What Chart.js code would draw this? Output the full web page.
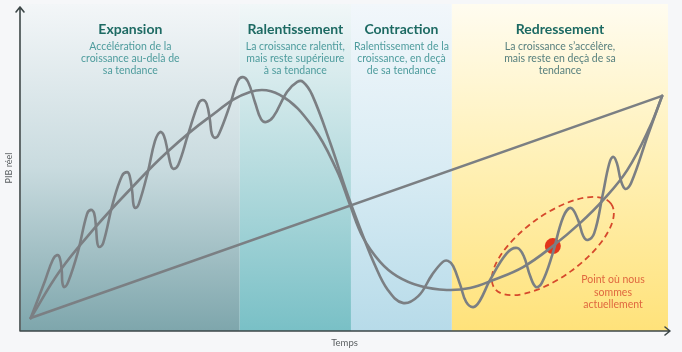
<!DOCTYPE html>
<html lang="fr">
<head>
<meta charset="utf-8">
<title>Cycle économique</title>
<script src="https://cdn.jsdelivr.net/npm/chart.js@4.4.1/dist/chart.umd.min.js"></script>
<style>
  html, body { margin: 0; padding: 0; background: #f6f7f9; }
  #wrap { width: 682px; height: 352px; position: relative; }
</style>
</head>
<body>
<div id="wrap"><canvas id="c" width="682" height="352"></canvas></div>
<script>
// Phases of the cycle (time axis 0–100)
const phaseNames = ['Expansion', 'Ralentissement', 'Contraction', 'Redressement'];
const phaseStart = [0, 33.8, 51.0, 66.6];
const phaseEnd   = [33.8, 51.0, 66.6, 100];
const phaseText = [
  ['Accélération de la', 'croissance au-delà de', 'sa tendance'],
  ['La croissance ralentit,', 'mais reste supérieure', 'à sa tendance'],
  ['Ralentissement de la', 'croissance, en deçà', 'de sa tendance'],
  ['La croissance s’accélère,', 'mais reste en deçà de sa', 'tendance']
];

// Long-run trend of real GDP
const trendX = [1.5, 99.1];
const trendY = [4.0, 72.8];

// Business cycle around the trend
const cycleX = [1.5, 6.0, 11.4, 16.8, 22.6, 28.9, 35.4, 40.0, 45.1, 48.8, 50.8, 52.9, 55.5, 58.1, 61.7, 65.8, 69.4, 73.0, 77.6, 82.2, 86.4, 90.0, 93.7, 97.2, 99.1];
const cycleY = [4.0, 18.6, 31.9, 43.7, 55.4, 65.9, 74.0, 73.1, 63.2, 49.8, 39.3, 28.8, 21.4, 17.0, 13.9, 12.7, 13.3, 15.8, 19.8, 26.3, 33.4, 40.6, 49.8, 63.2, 72.8];

// Short-term fluctuations around the cycle
const waveX = [
  1.5, 3.7, 4.9, 5.6, 6.0, 6.3, 6.4, 6.7, 7.3,
  8.8, 10.2, 10.8, 11.3, 11.6, 11.8, 12.1, 12.7,
  14.2, 15.6, 16.4, 16.8, 17.2, 17.4, 17.7, 18.2,
  19.6, 20.7, 21.5, 22.1, 22.7, 23.2, 23.6, 24.3,
  25.8, 27.4, 28.1, 28.7, 29.2, 29.5, 30.0, 30.6,
  32.3, 33.5, 34.3, 35.1, 36.2, 37.1, 37.9, 39.0,
  41.1, 42.7, 43.6, 45.0, 47.8, 50.4, 52.7, 54.7,
  56.7, 59.0, 61.4, 63.5, 65.2, 66.0, 66.8, 67.9,
  68.8, 69.9, 70.9, 72.5, 75.1, 76.7, 77.7, 78.7,
  79.6, 80.5, 82.1, 83.8, 85.0, 86.1, 86.9, 87.6,
  88.6, 89.9, 90.9, 91.5, 92.1, 92.7, 93.4, 94.3,
  96.9, 99.1
];
const waveY = [
  4.0, 15.5, 22.0, 23.5, 22.6, 18.6, 14.9, 13.6, 15.2,
  24.5, 36.2, 37.5, 36.5, 31.9, 27.2, 26.0, 27.2,
  39.6, 48.0, 49.2, 48.0, 43.0, 39.0, 38.1, 39.3,
  49.2, 58.8, 61.6, 60.4, 55.4, 51.1, 50.2, 51.4,
  60.7, 70.3, 71.5, 70.3, 65.3, 61.0, 59.8, 61.0,
  70.0, 77.4, 78.6, 77.1, 70.6, 65.6, 64.7, 66.3,
  74.0, 77.1, 77.1, 73.1, 58.2, 42.7, 30.3, 20.4,
  12.7, 8.7, 10.8, 17.3, 21.4, 21.7, 20.1, 14.2,
  9.0, 7.4, 9.3, 15.8, 24.1, 25.7, 23.2, 17.0,
  13.6, 14.9, 23.5, 35.3, 38.1, 34.4, 29.4, 28.2,
  30.3, 42.1, 51.7, 53.9, 52.0, 46.7, 44.0, 45.8,
  60.7, 72.8
];

// Current position in the cycle
const nowX = [82.2];
const nowY = [26.3];
const nowLabel = ['Point où nous', 'sommes', 'actuellement'];

const xLabel = 'Temps';
const yLabel = 'PIB réel';

const toPoints = (xs, ys) => xs.map((x, i) => ({ x, y: ys[i] }));

const bandColors = [
  ['#f3f6f8', '#c9dbdf', '#7ea6ac'],
  ['#f1f7f8', '#b7dcdf', '#79c0c6'],
  ['#f2f7fb', '#d9ecf4', '#b7dbe9'],
  ['#fffcf0', '#fff0b4', '#ffe27a']
];

const decor = {
  id: 'decor',
  beforeDatasetsDraw(chart) {
    const { ctx, chartArea: a, scales: { x, y } } = chart;
    const top = 4;
    ctx.save();
    // phase bands
    phaseStart.forEach((s, i) => {
      const x0 = x.getPixelForValue(s), x1 = x.getPixelForValue(phaseEnd[i]);
      const g = ctx.createLinearGradient(0, top, 0, a.bottom);
      g.addColorStop(0, bandColors[i][0]);
      g.addColorStop(0.5, bandColors[i][1]);
      g.addColorStop(1, bandColors[i][2]);
      ctx.fillStyle = g;
      ctx.fillRect(x0, top, x1 - x0, a.bottom - top);
    });
    // phase titles and descriptions
    ctx.textAlign = 'center';
    ctx.textBaseline = 'middle';
    phaseNames.forEach((n, i) => {
      const cx = (x.getPixelForValue(phaseStart[i]) + x.getPixelForValue(phaseEnd[i])) / 2;
      ctx.fillStyle = '#1d6a63';
      ctx.font = 'bold 14px Lato, "Noto Sans", sans-serif';
      ctx.fillText(n, cx, 29);
      ctx.fillStyle = i === 3 ? '#567f7d' : '#4e9c9d';
      ctx.font = '10.5px Lato, "Noto Sans", sans-serif';
      phaseText[i].forEach((t, j) => ctx.fillText(t, cx, 47 + j * 12));
    });
    // dashed ring around the current point
    const cx = x.getPixelForValue(nowX[0]), cy = y.getPixelForValue(nowY[0]);
    ctx.beginPath();
    ctx.ellipse(cx, cy, 72, 31, -36 * Math.PI / 180, 0, Math.PI * 2);
    ctx.setLineDash([6, 4]);
    ctx.lineWidth = 1.8;
    ctx.strokeStyle = '#d6492c';
    ctx.stroke();
    ctx.setLineDash([]);
    ctx.restore();
  },
  afterDatasetsDraw(chart) {
    const { ctx, chartArea: a } = chart;
    ctx.save();
    // axes with open arrow heads
    ctx.strokeStyle = '#3d4748';
    ctx.lineWidth = 1.6;
    ctx.lineCap = 'round';
    ctx.lineJoin = 'round';
    const ox = a.left - 1, oy = a.bottom;
    ctx.beginPath();
    ctx.moveTo(ox, oy); ctx.lineTo(ox, 7);
    ctx.moveTo(ox - 4, 12); ctx.lineTo(ox, 7); ctx.lineTo(ox + 4, 12);
    ctx.moveTo(ox, oy); ctx.lineTo(670, oy);
    ctx.moveTo(665, oy - 4); ctx.lineTo(670, oy); ctx.lineTo(665, oy + 4);
    ctx.stroke();
    // axis titles
    ctx.fillStyle = '#5b6062';
    ctx.textAlign = 'center';
    ctx.textBaseline = 'middle';
    ctx.font = '9.5px Lato, "Noto Sans", sans-serif';
    ctx.fillText(xLabel, (a.left + a.right) / 2, 343);
    ctx.translate(9, 168);
    ctx.rotate(-Math.PI / 2);
    ctx.font = '9px Lato, "Noto Sans", sans-serif';
    ctx.fillText(yLabel, 0, 0);
    ctx.restore();
    // note next to the current point
    ctx.save();
    ctx.fillStyle = '#e0683f';
    ctx.textAlign = 'center';
    ctx.textBaseline = 'middle';
    ctx.font = '10.5px Lato, "Noto Sans", sans-serif';
    nowLabel.forEach((t, j) => ctx.fillText(t, 613, 280 + j * 12.5));
    ctx.restore();
  }
};

const lineStyle = {
  showLine: true,
  borderColor: '#7b7f83',
  borderWidth: 2.6,
  pointRadius: 0,
  borderCapStyle: 'round',
  borderJoinStyle: 'round',
  clip: false
};

new Chart(document.getElementById('c'), {
  type: 'scatter',
  data: {
    datasets: [
      { ...lineStyle, data: toPoints(trendX, trendY), tension: 0 },
      { ...lineStyle, data: toPoints(cycleX, cycleY), tension: 0.4 },
      { ...lineStyle, data: toPoints(waveX, waveY), tension: 0.4 },
      { data: toPoints(nowX, nowY), pointRadius: 8, pointBackgroundColor: '#e2351c', pointBorderWidth: 0, showLine: false }
    ]
  },
  options: {
    responsive: false,
    animation: false,
    layout: { padding: { left: 21, right: 14, top: 8, bottom: 21 } },
    scales: {
      x: { type: 'linear', min: 0, max: 100, display: false },
      y: { type: 'linear', min: 0, max: 100, display: false }
    },
    plugins: { legend: { display: false }, tooltip: { enabled: false } }
  },
  plugins: [decor]
});
</script>
</body>
</html>
